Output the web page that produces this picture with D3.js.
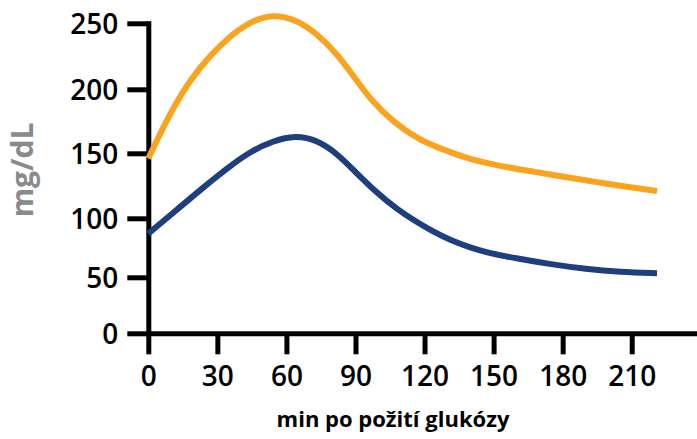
<!DOCTYPE html>
<html>
<head>
<meta charset="utf-8">
<script src="https://cdn.jsdelivr.net/npm/d3@7"></script>
<style>
  html, body { margin: 0; padding: 0; background: #ffffff; }
  svg { display: block; }
</style>
</head>
<body>
<svg id="chart" width="697" height="439"></svg>
<script>
// ---- data ----
const xTicks = [0, 30, 60, 90, 120, 150, 180, 210];
const yTicks = [0, 50, 100, 150, 200, 250];

const orangeTime  = [0, 9, 18, 27, 36, 44, 54, 64, 73, 82, 90, 97, 106, 118, 126, 138, 153, 167, 182, 196, 211, 221];
const orangeValue = [146, 180, 207, 226, 241, 251, 257, 253, 242.5, 227, 208, 191, 175, 160, 154.5, 146, 140, 136, 131.5, 127.4, 123.5, 121];

const blueTime  = [0, 12, 24, 36, 45, 54, 64, 73, 82, 90, 99, 108, 116, 123, 131, 140, 148, 160, 175, 190, 205, 221];
const blueValue = [87, 106, 124, 141, 152, 159.5, 164, 160.5, 150, 135.5, 120, 107, 97.5, 89.5, 81.5, 75, 70.5, 66, 61, 57, 54.5, 53.5];

const xTitle = "min po požití glukózy";
const yTitle = "mg/dL";

// ---- layout ----
const svg = d3.select("#chart");
const x0 = 148.3, pxPerMin = 2.302;
const x = d3.scaleLinear().domain([0, 240]).range([x0, x0 + 240 * pxPerMin]);
// the reference's vertical axis is slightly non-uniform; piecewise linear scale
const y = d3.scaleLinear().domain(yTicks).range([333.3, 277.3, 218.3, 153.3, 89.3, 23.3]);

const font = "'Open Sans', 'DejaVu Sans', sans-serif";

// y axis
const gy = svg.append("g")
  .attr("transform", `translate(${x0},0)`)
  .call(d3.axisLeft(y).tickValues(yTicks).tickSize(21).tickSizeOuter(0).tickPadding(9));
// x axis
const gx = svg.append("g")
  .attr("transform", `translate(0,${y(0)})`)
  .call(d3.axisBottom(x).tickValues(xTicks).tickSize(21).tickSizeOuter(0).tickPadding(12));

[gy, gx].forEach(g => {
  g.select(".domain").attr("stroke", "#000").attr("stroke-width", 5).attr("stroke-linecap", "square");
  g.selectAll(".tick line").attr("stroke", "#000").attr("stroke-width", 5);
  g.selectAll(".tick text")
    .attr("fill", "#000")
    .style("font-family", font)
    .style("font-size", "28px")
    .style("font-weight", 600);
});
gy.selectAll(".tick text").attr("dy", "0.36em");

// titles
svg.append("text")
  .attr("x", 393)
  .attr("y", 427)
  .attr("text-anchor", "middle")
  .style("font-family", font)
  .style("font-size", "22px")
  .style("font-weight", 700)
  .attr("fill", "#000")
  .text(xTitle);

svg.append("text")
  .attr("transform", "translate(33,170) rotate(-90)")
  .attr("text-anchor", "middle")
  .style("font-family", font)
  .style("font-size", "30px")
  .style("font-weight", 700)
  .attr("fill", "#8a8a8a")
  .text(yTitle);

// lines
const line = d3.line()
  .x(d => x(d[0]))
  .y(d => y(d[1]))
  .curve(d3.curveBasis);

svg.append("path")
  .datum(orangeTime.map((t, i) => [t, orangeValue[i]]))
  .attr("d", line)
  .attr("fill", "none")
  .attr("stroke", "#f9a31e")
  .attr("stroke-width", 6);

svg.append("path")
  .datum(blueTime.map((t, i) => [t, blueValue[i]]))
  .attr("d", line)
  .attr("fill", "none")
  .attr("stroke", "#1f3e7e")
  .attr("stroke-width", 6);
</script>
</body>
</html>
